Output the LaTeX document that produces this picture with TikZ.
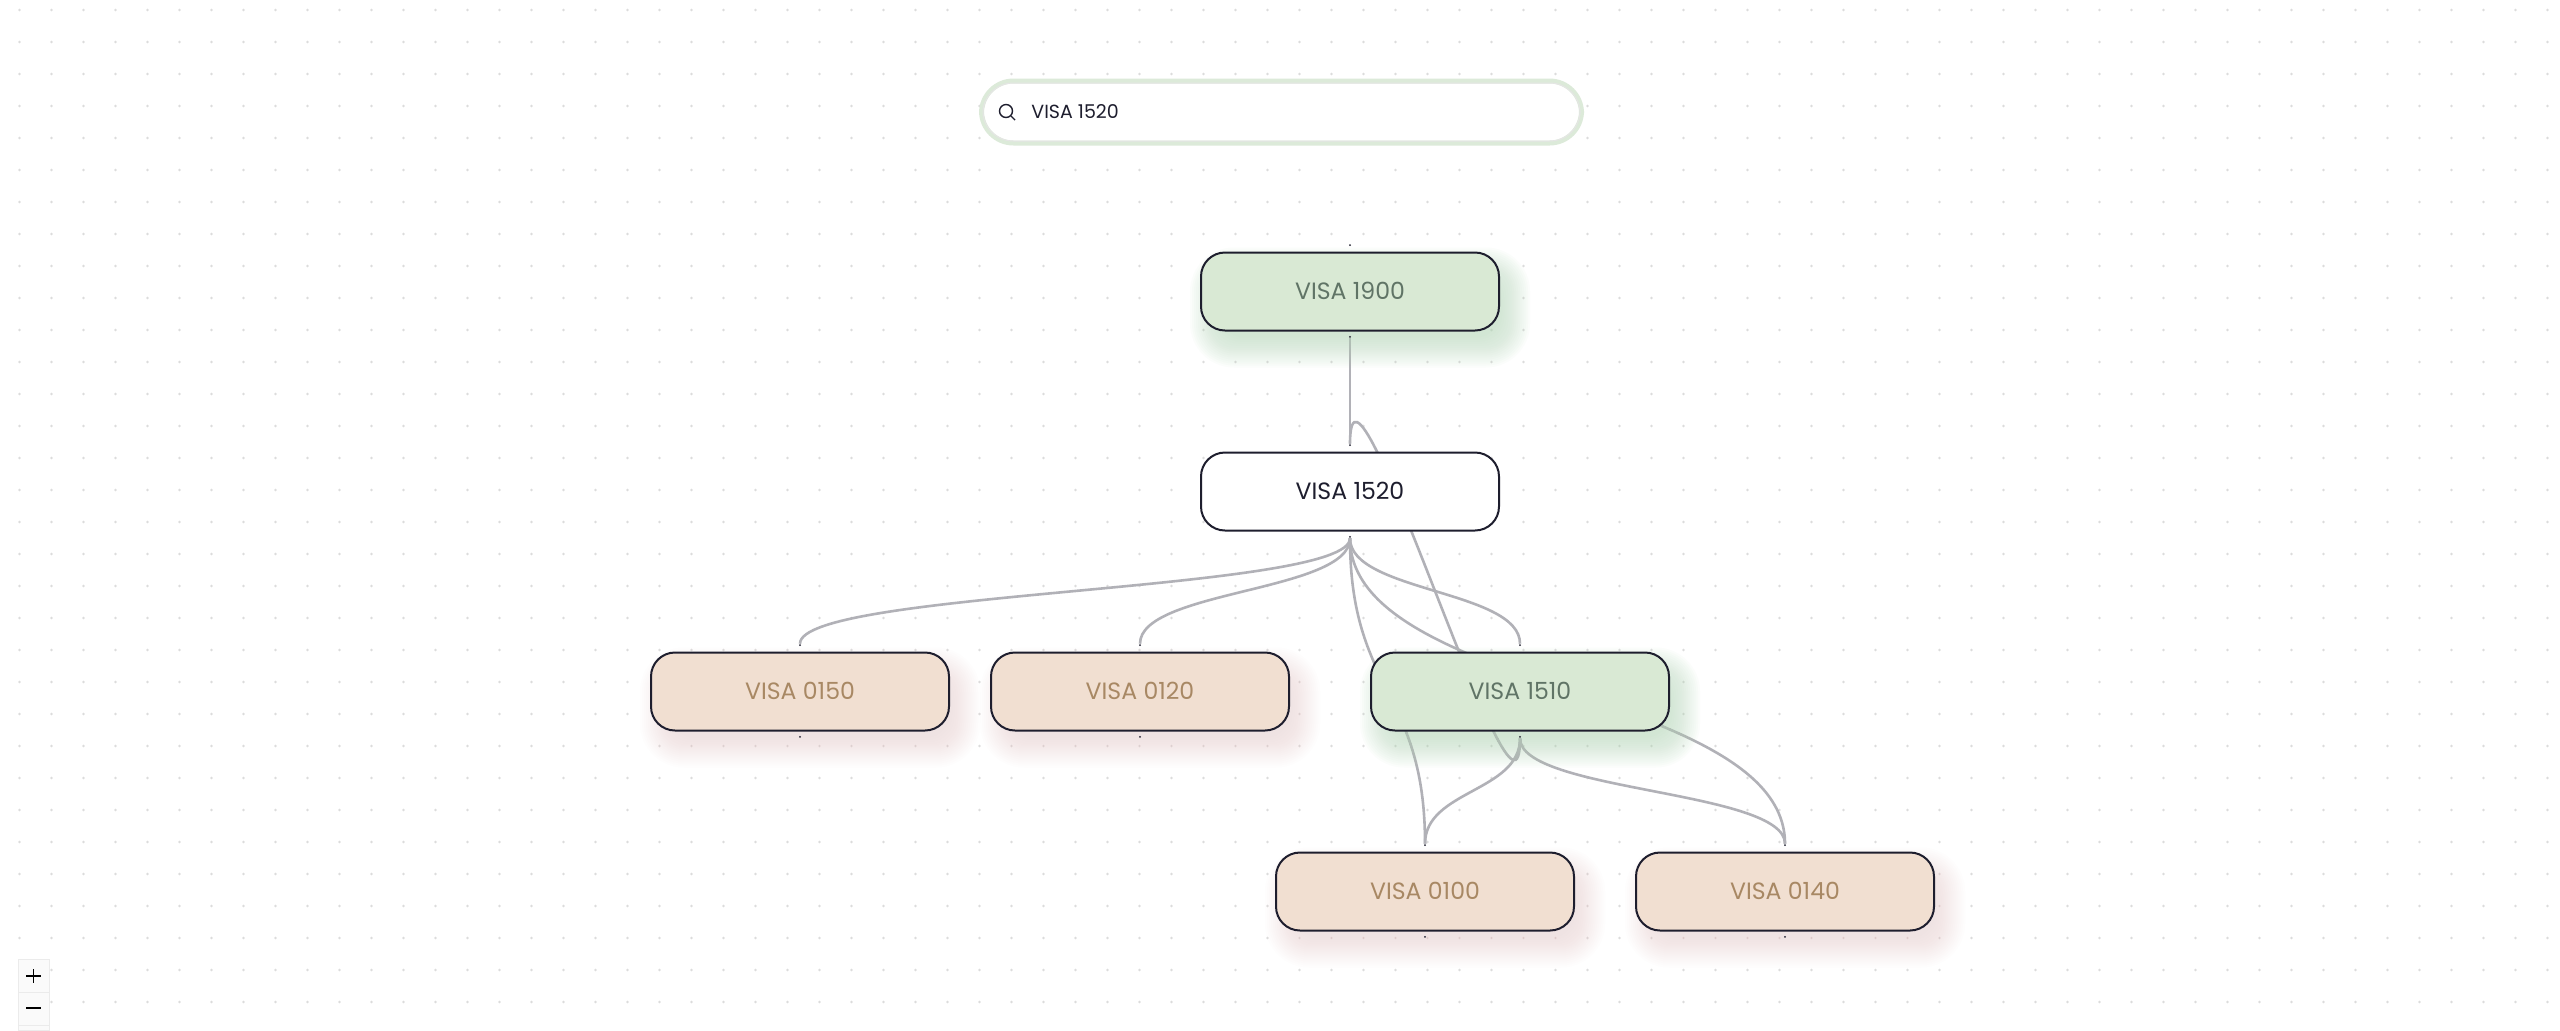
\documentclass[tikz,border=0pt]{standalone}
\usepackage{fontspec}
\setmainfont{Poppins}
\definecolor{inkdark}{RGB}{30, 30, 46}
\definecolor{edgegray}{RGB}{177, 177, 183}
\definecolor{dotgray}{RGB}{220, 220, 220}
\definecolor{leafgreen}{RGB}{217, 233, 212}
\definecolor{leafpink}{RGB}{241, 223, 209}
\definecolor{textgreen}{RGB}{96, 116, 102}
\definecolor{textpink}{RGB}{168, 136, 100}
\definecolor{glowgreen}{RGB}{176, 214, 180}
\definecolor{glowpink}{RGB}{238, 190, 190}
\definecolor{searchring}{RGB}{220, 234, 217}
\usetikzlibrary{
    arrows.meta,
    positioning,
    calc
}
\pgfdeclarelayer{grid}
\pgfdeclarelayer{edges}
\pgfdeclarelayer{glow}
\pgfsetlayers{grid,edges,glow,main}
\tikzset{
    course/.style={draw=inkdark, line width=1pt, rounded corners=12pt, minimum width=149pt,
        minimum height=39pt, inner sep=0pt, font=\fontsize{11.8}{15}\selectfont},
    taken/.style={course, fill=leafgreen, text=textgreen},
    current/.style={course, fill=white, text=inkdark},
    missing/.style={course, fill=leafpink, text=textpink},
    handle/.style={circle, fill=inkdark, minimum size=1pt, inner sep=0pt},
    edgeline/.style={draw=edgegray, line width=1.3pt}
}
% soft shadow under a course box
\newcommand{\softglow}[3]{
    \begin{pgfonlayer}{glow}
        \foreach \d in {20,18,...,-10} {
            \pgfmathsetmacro{\r}{12+max(\d,0)*0.5}
            \fill[#2, opacity=#3, rounded corners=\r pt]
                ($(#1.north west)+(10-\d,16-\d)$) rectangle ($(#1.south east)+(10+\d,16+\d)$);
        }
    \end{pgfonlayer}
}
\begin{document}
\begin{tikzpicture}[x=0.5pt,y=-0.5pt]
    \useasboundingbox (0,0) rectangle (2560,1030);

    % Dotted canvas
    \begin{pgfonlayer}{grid}
        \fill[white] (0,0) rectangle (2560,1030);
        \foreach \i in {0,...,79} {
            \foreach \j in {0,...,31} {
                \fill[dotgray] (19.5+32*\i,10+32*\j) circle (0.65pt);
            }
        }
    \end{pgfonlayer}

    % Search bar
    \node[draw=searchring, fill=white, line width=2.5pt, rounded corners=16pt, minimum width=300pt,
        minimum height=31pt, inner sep=0pt] (searchbar) at (1281.5,112) {};
    \draw[black!10, line width=0.5pt, rounded corners=15pt] (983,83) rectangle (1580,141);
    \draw[inkdark, line width=0.7pt] (1006,111) circle (6.5);
    \draw[inkdark, line width=0.7pt] (1011,116) -- (1015,120);
    \node[right, inner sep=0pt, text=inkdark, font=\fontsize{9.5}{12}\selectfont] (searchtext) at (1031,111.5) {VISA 1520};

    % Course boxes
    \node[taken] (v1900) at (1350,291.5) {\raisebox{0.7pt}{VISA 1900}};
    \node[current] (v1520) at (1350,491.5) {\raisebox{0.7pt}{VISA 1520}};
    \node[missing] (v0150) at (800,691.5) {\raisebox{0.7pt}{VISA 0150}};
    \node[missing] (v0120) at (1140,691.5) {\raisebox{0.7pt}{VISA 0120}};
    \node[taken] (v1510) at (1520,691.5) {\raisebox{0.7pt}{VISA 1510}};
    \node[missing] (v0100) at (1425,891.5) {\raisebox{0.7pt}{VISA 0100}};
    \node[missing] (v0140) at (1785,891.5) {\raisebox{0.7pt}{VISA 0140}};

    % Handles on each box
    \foreach \v in {1900,1520,0150,0120,1510,0100,0140} {
        \node[handle, above=2.5pt of v\v] (v\v in) {};
        \node[handle, below=2pt of v\v] (v\v out) {};
    }

    % Shadows
    \softglow{v1900}{glowgreen}{0.042}
    \softglow{v1510}{glowgreen}{0.042}
    \softglow{v0150}{glowpink}{0.025}
    \softglow{v0120}{glowpink}{0.025}
    \softglow{v0100}{glowpink}{0.025}
    \softglow{v0140}{glowpink}{0.025}

    % Connectors
    \begin{pgfonlayer}{edges}
        \draw[edgeline] (v1900out) -- (v1520in);
        \draw[edgeline] (v1520out) .. controls +(0,55) and +(0,-55) .. (v0150in);
        \draw[edgeline] (v1520out) .. controls +(0,55) and +(0,-55) .. (v0120in);
        \draw[edgeline] (v1520out) .. controls +(0,55) and +(0,-55) .. (v1510in);
        \draw[edgeline] (v1520out) .. controls +(0,154.5) and +(0,-154.5) .. (v0100in);
        \draw[edgeline] (v1520out) .. controls +(0,154.5) and +(0,-154.5) .. (v0140in);
        \draw[edgeline] (v1510out) .. controls +(0,55) and +(0,-55) .. (v0100in);
        \draw[edgeline] (v1510out) .. controls +(0,55) and +(0,-55) .. (v0140in);
        % goes back up through both boxes
        \draw[edgeline] (v1520in) .. controls +(0,-140) and +(0,140) .. (v1510out);
    \end{pgfonlayer}

    % Zoom buttons
    \draw[black!8, fill=white!98!black, line width=0.5pt] (18,959) rectangle (49,992);
    \draw[black!8, fill=white!98!black, line width=0.5pt] (18,992) rectangle (49,1025);
    \draw[black!8, fill=white!98!black, line width=0.5pt] (18,1025) rectangle (49,1030);
    \draw[black, line width=0.7pt] (26,976) -- (41,976);
    \draw[black, line width=0.7pt] (33.5,969) -- (33.5,983);
    \draw[black, line width=0.8pt] (26,1008) -- (41,1008);
\end{tikzpicture}
\end{document}
